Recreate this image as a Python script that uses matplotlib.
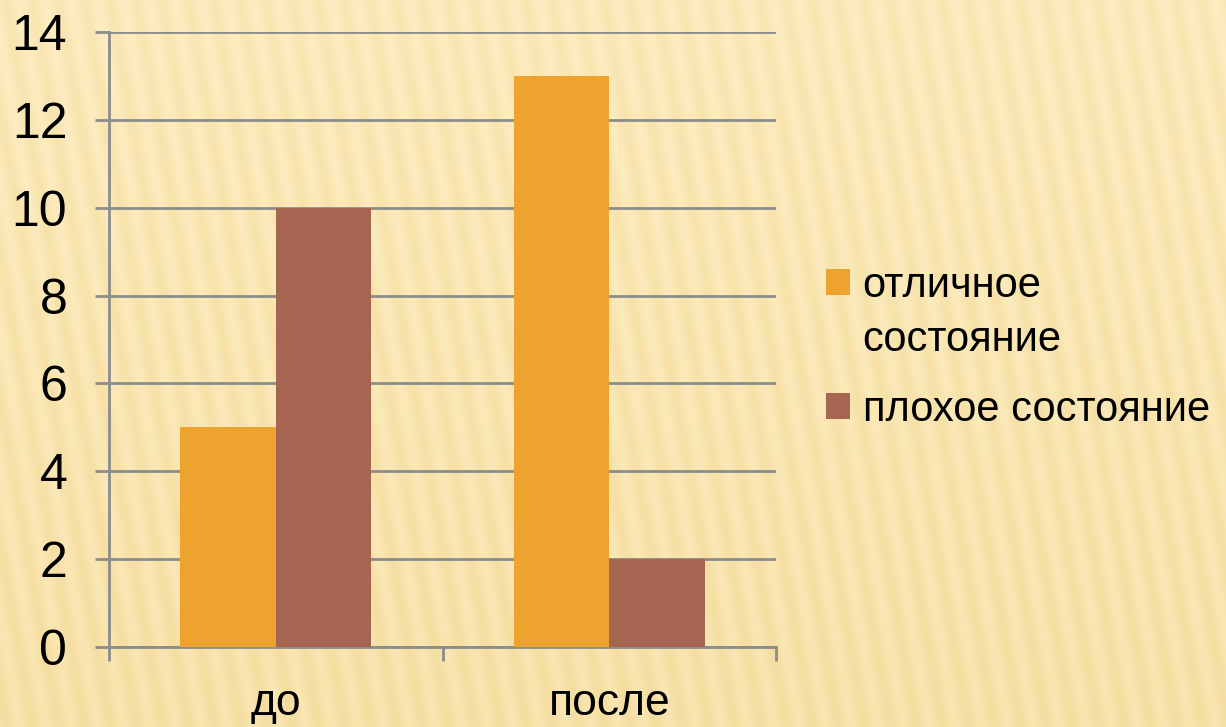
import numpy as np
import matplotlib
import matplotlib.pyplot as plt

matplotlib.use("Agg")
plt.rcParams['font.family'] = ['Liberation Sans', 'DejaVu Sans']

categories = ["до", "после"]
excellent = [5, 13]
bad = [10, 2]
series_names = ["отличное\nсостояние", "плохое состояние"]
colors = ["#eea32f", "#a56550"]
yticks = [0, 2, 4, 6, 8, 10, 12, 14]

fig = plt.figure(figsize=(12.26, 7.27), dpi=100)

# striped paper background
bg = fig.add_axes([0, 0, 1, 1], zorder=-10)
h, w = 727, 1226
yy, xx = np.mgrid[0:h, 0:w]
stripes = 0.5 + 0.5 * np.sin(2 * np.pi * (xx + 0.18 * (h - yy)) / 26.0)
light = np.array([0.99, 0.93, 0.76])
dark = np.array([0.95, 0.85, 0.58])
vert = (yy / h)[..., None]
base = light * (1 - 0.4 * vert) + dark * 0.4 * vert
img = base - 0.06 * stripes[..., None] * np.array([0.2, 0.5, 1.0])
bg.imshow(np.clip(img, 0, 1), aspect="auto", interpolation="bilinear")
bg.axis("off")

ax = fig.add_axes([109 / 1226, 1 - 647 / 727, (776 - 109) / 1226, (647 - 32) / 727])
ax.patch.set_alpha(0)

x = np.arange(len(categories))
bw = 0.286
ax.bar(x - bw / 2, excellent, bw, color=colors[0], label=series_names[0], zorder=3)
ax.bar(x + bw / 2, bad, bw, color=colors[1], label=series_names[1], zorder=3)

ax.set_xlim(-0.5, 1.5)
ax.set_ylim(0, 14)
ax.set_yticks(yticks)
ax.set_yticklabels([str(v) for v in yticks], fontsize=36)
ax.yaxis.grid(True, color="#8c8c8c", linewidth=2, zorder=0)
ax.tick_params(axis="y", length=10, width=2, color="#8c8c8c", pad=20)

ax.set_xticks([-0.5, 0.5, 1.5])
ax.set_xticklabels([])
ax.set_xticks(x, minor=True)
ax.set_xticklabels(categories, minor=True, fontsize=32)
ax.tick_params(axis="x", which="major", length=10, width=2, color="#8c8c8c", direction="out")
ax.tick_params(axis="x", which="minor", length=0, pad=26)

for s in ["top", "right"]:
    ax.spines[s].set_visible(False)
for s in ["left", "bottom"]:
    ax.spines[s].set_color("#8c8c8c")
    ax.spines[s].set_linewidth(2)

leg = ax.legend(loc="center left", bbox_to_anchor=(826 / 1226, 1 - 348 / 727),
                bbox_transform=fig.transFigure, frameon=False, borderpad=0,
                borderaxespad=0, fontsize=30, handlelength=0.58, handleheight=0.58,
                handletextpad=0.3, labelspacing=0.72)
for t in leg.get_texts():
    t.set_linespacing(1.45)
# put the first marker next to the first line of its two-line label
first = leg.legend_handles[0]
first.set_y(first.get_y() + 23)

fig.savefig("out.png", dpi=100)
